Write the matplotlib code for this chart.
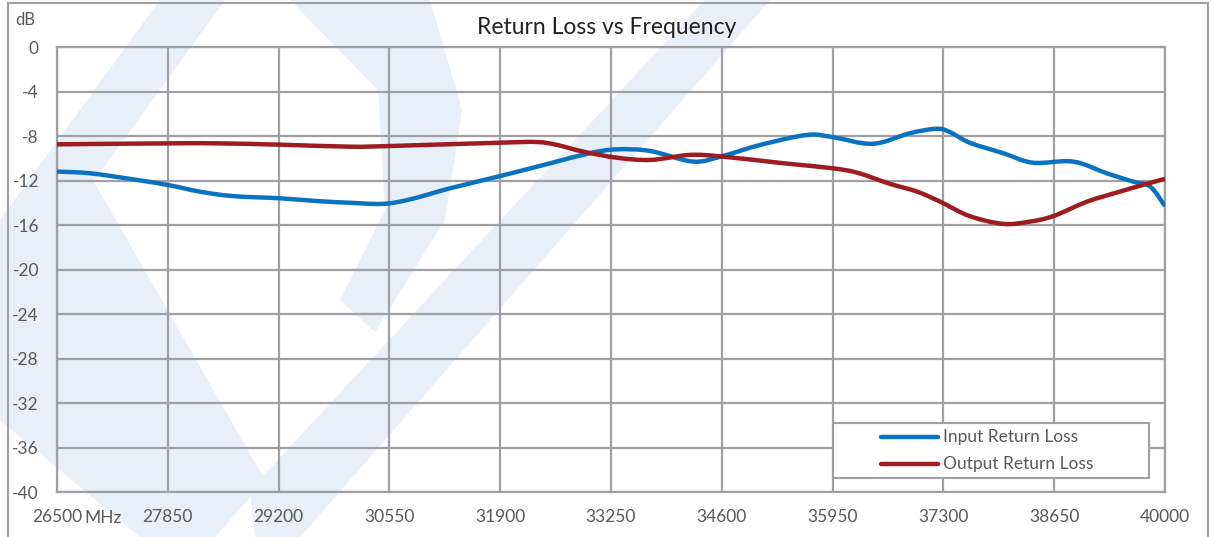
#!/usr/bin/env python3
"""
Return Loss vs Frequency chart
"""

import matplotlib
matplotlib.use("Agg")
import matplotlib.pyplot as plt
from matplotlib.patches import Polygon, Rectangle, PathPatch
from matplotlib.path import Path
from matplotlib.lines import Line2D

# Data
input_freq = [26500, 26900, 27430, 27850, 28240, 28640, 29220, 29670, 30070, 30470,
              30800, 31290, 31900, 32510, 32990, 33320, 33730, 34250, 34610, 35070,
              35640, 35950, 36440, 36890, 37220, 37380, 37620, 38030, 38390, 38880,
              39290, 39610, 39820, 40000]
input_rl = [-11.2, -11.35, -11.9, -12.4, -13.0, -13.4, -13.6, -13.85, -14.0, -14.1,
            -13.7, -12.7, -11.6, -10.45, -9.55, -9.2, -9.35, -10.3, -9.8, -8.8,
            -7.9, -8.1, -8.7, -7.75, -7.35, -7.65, -8.6, -9.55, -10.4, -10.3,
            -11.35, -12.1, -12.55, -14.3]

output_freq = [26500, 27850, 28450, 29220, 30070, 30550, 31900, 32350, 32590, 32910,
               33320, 33730, 34210, 34610, 35350, 35950, 36250, 36650, 36980, 37260,
               37620, 38030, 38350, 38640, 39050, 39450, 39730, 40000]
output_rl = [-8.75, -8.66, -8.66, -8.78, -8.96, -8.9, -8.6, -8.54, -8.8, -9.4,
             -9.95, -10.15, -9.7, -9.85, -10.45, -10.9, -11.3, -12.3, -13.0, -13.9,
             -15.2, -15.9, -15.7, -15.2, -13.9, -13.0, -12.4, -11.85]

x_ticks = [26500 + 1350 * i for i in range(11)]
y_ticks = list(range(-40, 1, 4))

BLUE = '#0a72bf'
RED = '#9c1c20'
GRID = '#a0a0a4'
TEXT = '#595959'
WM = '#e8eff8'

plt.rcParams['font.family'] = ['Lato', 'DejaVu Sans']

W, H = 1213, 537
fig = plt.figure(figsize=(W / 100, H / 100), dpi=100, facecolor='white')


def px(pts):
    return [(x / W, 1 - y / H) for x, y in pts]


def smooth_path(xs, ys, tension=1 / 6):
    # smoothed line like a spreadsheet "smoothed line": bezier segments through the points
    verts = [(xs[0], ys[0])]
    codes = [Path.MOVETO]
    n = len(xs)
    for i in range(n - 1):
        x0, y0 = (xs[i - 1], ys[i - 1]) if i > 0 else (xs[i], ys[i])
        x1, y1 = xs[i], ys[i]
        x2, y2 = xs[i + 1], ys[i + 1]
        x3, y3 = (xs[i + 2], ys[i + 2]) if i + 2 < n else (x2, y2)
        c1 = (x1 + (x2 - x0) * tension, y1 + (y2 - y0) * tension)
        c2 = (x2 - (x3 - x1) * tension, y2 - (y3 - y1) * tension)
        verts += [c1, c2, (x2, y2)]
        codes += [Path.CURVE4] * 3
    return Path(verts, codes)


# faint watermark shapes behind the chart
watermark = [
    [(0, 220), (160, 0), (225, 0), (0, 310)],
    [(0, 270), (90, 175), (265, 480), (215, 537), (140, 537), (0, 420)],
    [(250, 490), (705, 0), (770, 0), (300, 537), (255, 537)],
    [(290, 0), (430, 0), (462, 110), (445, 220), (375, 332), (340, 300),
     (385, 210), (378, 90)],
]
for poly in watermark:
    fig.add_artist(Polygon(px(poly), closed=True, facecolor=WM, edgecolor='none',
                           transform=fig.transFigure, zorder=0))

# outer chart border
fig.add_artist(Rectangle((8 / W, -0.01), (1208 - 8) / W, 1 - 3 / H + 0.01,
                         fill=False, edgecolor=GRID, linewidth=1.5,
                         transform=fig.transFigure, zorder=1))

ax = fig.add_axes([57 / W, 1 - 492 / H, (1165 - 57) / W, (492 - 47) / H])
ax.set_facecolor('none')

for xs, ys, color in [(input_freq, input_rl, BLUE), (output_freq, output_rl, RED)]:
    ax.add_patch(PathPatch(smooth_path(xs, ys), facecolor='none', edgecolor=color,
                           linewidth=3.2, joinstyle='round', capstyle='butt', zorder=3))

ax.set_xlim(26500, 40000)
ax.set_ylim(-40, 0)
ax.set_xticks(x_ticks)
ax.set_yticks(y_ticks)
ax.set_xticklabels([str(v) for v in x_ticks])
ax.set_yticklabels([str(v) for v in y_ticks])
ax.grid(True, color=GRID, linewidth=1.6)
ax.set_axisbelow(True)
for s in ax.spines.values():
    s.set_color(GRID)
    s.set_linewidth(1.6)
ax.tick_params(length=0, labelsize=12.5, colors=TEXT)
ax.tick_params(axis='x', pad=12)
ax.tick_params(axis='y', pad=13)

# axis unit labels and title
fig.text(103 / W, 1 - 518 / H, 'MHz', ha='center', va='center', fontsize=12.5, color=TEXT)
fig.text(25 / W, 1 - 20 / H, 'dB', ha='center', va='center', fontsize=12, color=TEXT)
fig.text(607 / W, 1 - 27 / H, 'Return Loss vs Frequency', ha='center', va='center',
         fontsize=16.5, color='#222222')

# legend box drawn like the original
lx0, ly0, lx1, ly1 = 833, 423, 1149, 478
fig.add_artist(Rectangle((lx0 / W, 1 - ly1 / H), (lx1 - lx0) / W, (ly1 - ly0) / H,
                         facecolor='white', edgecolor=GRID, linewidth=1.5,
                         transform=fig.transFigure, zorder=5))
for (label, color, yy) in [('Input Return Loss', BLUE, 437), ('Output Return Loss', RED, 464)]:
    fig.add_artist(Line2D([881 / W, 938 / W], [1 - yy / H, 1 - yy / H], color=color,
                          linewidth=3.2, solid_capstyle='round',
                          transform=fig.transFigure, zorder=6))
    fig.text(943 / W, 1 - yy / H, label, ha='left', va='center', fontsize=12.5,
             color=TEXT, zorder=6)

fig.savefig('out.png', dpi=100, facecolor='white')
